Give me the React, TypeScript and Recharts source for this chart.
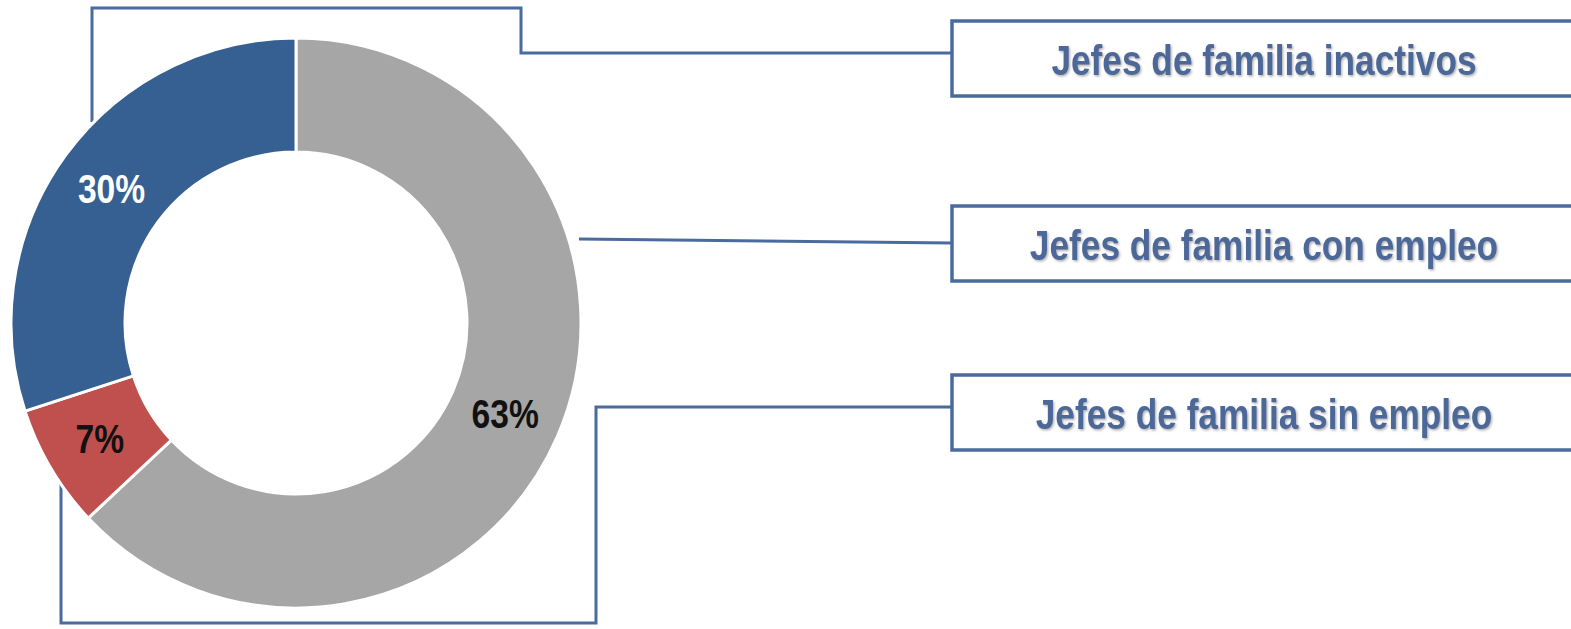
import { PieChart, Pie, Cell, Customized } from "recharts";

const categories = [
  "Jefes de familia con empleo",
  "Jefes de familia sin empleo",
  "Jefes de familia inactivos",
];
const shares = [63, 7, 30];
const sliceColors = ["#a6a6a6", "#c0504d", "#365f92"];
const labelColors = ["#111111", "#111111", "#ffffff"];

// legend boxes, top to bottom
const legendOrder = [2, 0, 1];

const data = categories.map((name, i) => ({ name, value: shares[i] }));

const RADIAN = Math.PI / 180;
const BLUE_LINE = "#4a6b9e";
const FONT = "'Liberation Sans', Arial, sans-serif";
// no narrow face installed, so squeeze the regular one
const NARROW_X = 0.82;

const renderLabel = (props: any) => {
  const { cx, cy, midAngle, innerRadius, outerRadius, value, index } = props;
  const r = (innerRadius + outerRadius) / 2;
  const x = cx + r * Math.cos(-midAngle * RADIAN);
  const y = cy + r * Math.sin(-midAngle * RADIAN);
  return (
    <text
      x={0}
      y={0}
      transform={`translate(${x},${y}) scale(${NARROW_X},1)`}
      textAnchor="middle"
      dominantBaseline="central"
      fill={labelColors[index]}
      fontFamily={FONT}
      fontWeight="bold"
      fontSize={41}
    >
      {`${value}%`}
    </text>
  );
};

// leader lines from the ring to each legend box
const connectors = [
  "M 92 122 V 8 H 521 V 53 H 952",
  "M 579 239 L 952 243",
  "M 61 484 V 623 H 596 V 407 H 952",
];
const boxTops = [21, 206, 375];
const BOX_H = 75;

const LegendBoxes = () => (
  <g>
    <defs>
      <filter id="txtShadow" x="-5%" y="-20%" width="110%" height="150%">
        <feDropShadow dx="1.5" dy="1.5" stdDeviation="1" floodColor="#7a7a7a" floodOpacity="0.6" />
      </filter>
    </defs>
    {connectors.map((d, i) => (
      <path key={`c-${i}`} d={d} fill="none" stroke={BLUE_LINE} strokeWidth={3} />
    ))}
    {legendOrder.map((idx, i) => (
      <g key={`b-${i}`}>
        <rect x={952} y={boxTops[i]} width={628} height={BOX_H} fill="#ffffff" stroke={BLUE_LINE} strokeWidth={3.5} />
        <text
          x={0}
          y={0}
          transform={`translate(1264,${boxTops[i] + BOX_H / 2 + 1}) scale(${NARROW_X},1)`}
          textAnchor="middle"
          dominantBaseline="central"
          fill="#4b6898"
          fontFamily={FONT}
          fontWeight="bold"
          fontSize={43}
          filter="url(#txtShadow)"
        >
          {categories[idx]}
        </text>
      </g>
    ))}
  </g>
);

export default function App() {
  return (
    <div style={{ position: "absolute", left: 0, top: 0, background: "#ffffff" }}>
      <PieChart width={1571} height={629} margin={{ top: 0, right: 0, bottom: 0, left: 0 }}>
        <Customized component={LegendBoxes} />
        <Pie
          data={data}
          dataKey="value"
          nameKey="name"
          cx={296}
          cy={323}
          innerRadius={171}
          outerRadius={285}
          startAngle={90}
          endAngle={-270}
          stroke="#ffffff"
          strokeWidth={3}
          label={renderLabel}
          labelLine={false}
          isAnimationActive={false}
        >
          {data.map((entry, index) => (
            <Cell key={`cell-${index}`} fill={sliceColors[index]} />
          ))}
        </Pie>
      </PieChart>
    </div>
  );
}
